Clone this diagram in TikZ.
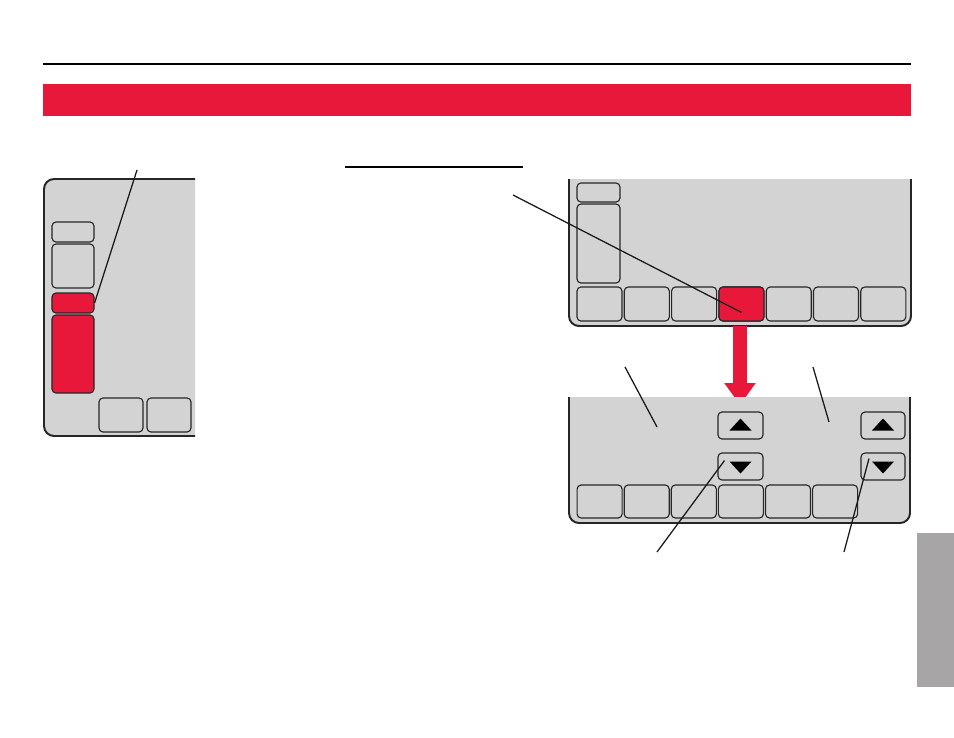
\documentclass[tikz,border=0pt]{standalone}
\usepackage{tikz}
\usetikzlibrary{arrows.meta, calc}
\definecolor{keyred}{RGB}{232, 24, 58}
\definecolor{panelgray}{RGB}{211, 211, 211}
\definecolor{tabgray}{RGB}{167, 165, 166}

\begin{document}
\begin{tikzpicture}[x=0.025cm, y=-0.025cm, line join=round,
    panel/.style={fill=panelgray, draw=black!85, line width=1.4pt, rounded corners=0.25cm},
    btn/.style={draw=black!85, line width=0.8pt, rounded corners=0.1cm, inner sep=0pt,
                minimum width=1.125cm, minimum height=0.85cm},
    hot/.style={btn, fill=keyred},
    arrbtn/.style={btn, minimum height=0.675cm},
    sidebtn/.style={btn, minimum width=1.05cm, minimum height=0.5cm},
    leader/.style={line width=0.9pt, black!90}]
  \useasboundingbox (0,0) rectangle (954,737);

  % header
  \draw[line width=1.3pt] (43,64) -- (911,64);
  \fill[keyred] (43,84) rectangle (911,116);
  \draw[line width=0.9pt] (345,167) -- (523,167);
  \fill[tabgray] (917,533) rectangle (954,687);

  % left screen (cut on the right)
  \begin{scope}
    \clip (0,150) rectangle (195,460);
    \draw[panel] (44,179) rectangle (230,436);
  \end{scope}
  \node[sidebtn] (ls1) at (73,232) {};
  \node[sidebtn, minimum height=1.1cm] (ls2) at (73,266) {};
  \node[sidebtn, fill=keyred] (lr1) at (73,303) {};
  \node[sidebtn, fill=keyred, minimum height=1.95cm] (lr2) at (73,354) {};
  \node[btn, minimum width=1.1cm] (lb1) at (121,415) {};
  \node[btn, minimum width=1.1cm] (lb2) at (169,415) {};
  \coordinate (lt) at (137,170);
  \draw[leader] (lt) -- (lr1.east);

  % top right screen (cut on top)
  \begin{scope}
    \clip (540,179) rectangle (930,340);
    \draw[panel] (569,150) rectangle (911,326);
  \end{scope}
  \node[sidebtn, minimum width=1.075cm, minimum height=0.475cm] (ts1) at (598.5,192.5) {};
  \node[sidebtn, minimum width=1.075cm, minimum height=1.975cm] (ts2) at (598.5,243.5) {};
  \foreach \i in {1,...,7}
    \node[btn] (t\i) at ({552.2+47.3*\i},304) {};
  \node[hot] (t4) at (741.5,304) {};
  \coordinate (mt) at (513,195);
  \draw[leader] (mt) -- ([yshift=-6]t4.center);

  % arrow between screens
  \coordinate (as) at (740,326);
  \coordinate (ae) at (740,405);
  \draw[keyred, line width=0.35cm, -{Triangle[length=0.55cm, width=0.75cm]}] (as) -- (ae);

  % bottom right screen (cut on top)
  \begin{scope}
    \clip (540,397) rectangle (930,540);
    \draw[panel] (569,370) rectangle (910,523);
  \end{scope}
  \node[arrbtn] (u1) at (740.5,425.5) {};
  \node[arrbtn] (d1) at (740.5,466.5) {};
  \node[arrbtn, minimum width=1.1cm] (u2) at (883,425.5) {};
  \node[arrbtn, minimum width=1.1cm] (d2) at (883,466.5) {};
  \foreach \n in {u1,u2}
    \fill ([shift={(-11,5)}]\n.center) -- ([shift={(11,5)}]\n.center) -- ([shift={(0,-7)}]\n.center) -- cycle;
  \foreach \n in {d1,d2}
    \fill ([shift={(-11,-5)}]\n.center) -- ([shift={(11,-5)}]\n.center) -- ([shift={(0,7)}]\n.center) -- cycle;
  \foreach \i in {1,...,6}
    \node[btn, minimum height=0.825cm] (bb\i) at ({552.5+47.1*\i},501.5) {};

  \coordinate (ca) at (625,367);
  \coordinate (ca2) at (657,427);
  \coordinate (cb) at (813,367);
  \coordinate (cb2) at (829,422);
  \coordinate (cc) at (657,552);
  \coordinate (cd) at (844,552);
  \draw[leader] (ca) -- (ca2);
  \draw[leader] (cb) -- (cb2);
  \draw[leader] (cc) -- ([shift={(-16,-6)}]d1.center);
  \draw[leader] (cd) -- ([shift={(-14,-8)}]d2.center);
\end{tikzpicture}
\end{document}
